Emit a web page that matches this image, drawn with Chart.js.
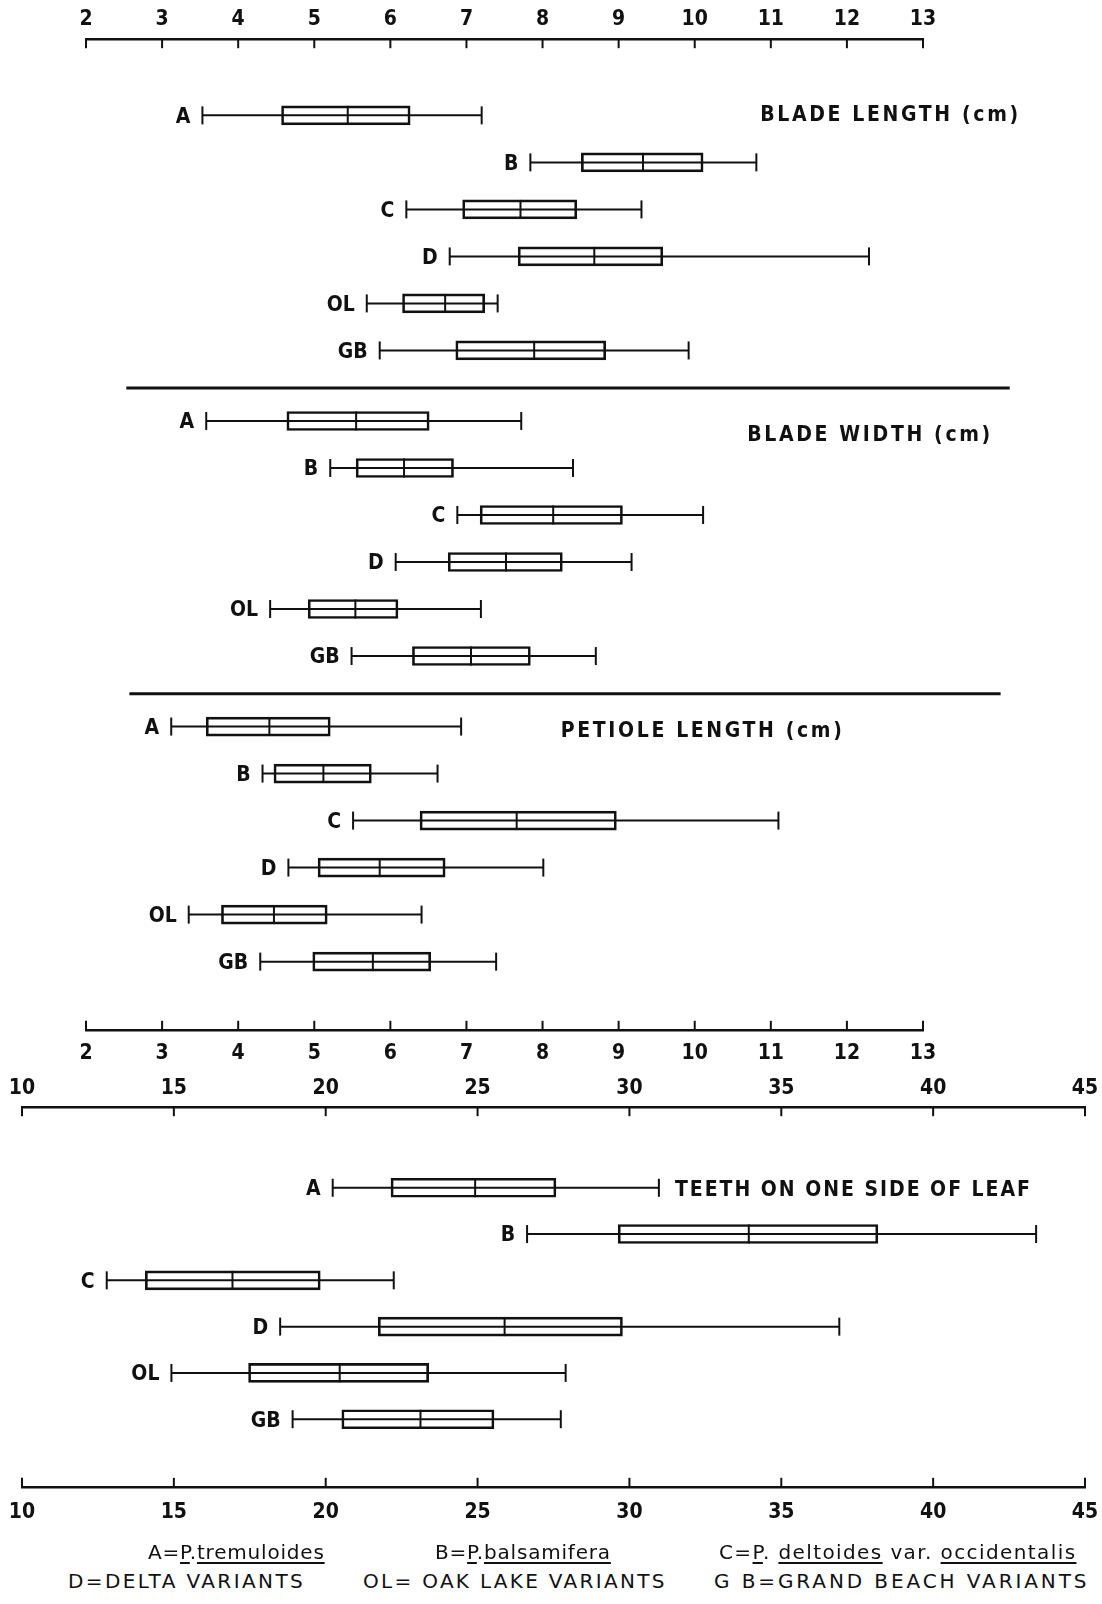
<!DOCTYPE html>
<html>
<head>
<meta charset="utf-8">
<script src="https://cdn.jsdelivr.net/npm/chart.js@4.4.1/dist/chart.umd.min.js"></script>
<style>
  body { margin: 0; background: #fff; width: 1102px; height: 1604px; position: relative; overflow: hidden; }
  #wrapTop { position: absolute; left: 0; top: 0; width: 1102px; height: 1085px; }
  #wrapTeeth { position: absolute; left: 0; top: 1060px; width: 1102px; height: 490px; }
  .leg { position: absolute; font-family: 'DejaVu Sans', sans-serif; font-size: 20px; line-height: 24px;
         color: #111; white-space: nowrap; }
  .leg u { text-underline-offset: 3px; }
</style>
</head>
<body>
<div id="wrapTop"><canvas id="leafChart"></canvas></div>
<div id="wrapTeeth"><canvas id="teethChart"></canvas></div>

<div class="leg" style="left:148px; top:1540px; letter-spacing:0.8px;">A=<u>P</u>.<u>tremuloides</u></div>
<div class="leg" style="left:435px; top:1540px; letter-spacing:0.8px;">B=<u>P</u>.<u>balsamifera</u></div>
<div class="leg" style="left:719px; top:1540px; letter-spacing:1.4px;">C=<u>P</u>. <u>deltoides</u> var. <u>occidentalis</u></div>
<div class="leg" style="left:68px; top:1569px; letter-spacing:2.4px;">D=DELTA VARIANTS</div>
<div class="leg" style="left:363px; top:1569px; letter-spacing:2.3px;">OL= OAK LAKE VARIANTS</div>
<div class="leg" style="left:714px; top:1569px; letter-spacing:2.9px;">G B=GRAND BEACH VARIANTS</div>

<script>
// groups, each row is [min, q1, median, q3, max]
const groups = ['A', 'B', 'C', 'D', 'OL', 'GB'];

const bladeLength = [
  [3.53, 4.57, 5.44, 6.26, 7.20],
  [7.84, 8.51, 9.32, 10.11, 10.81],
  [6.21, 6.95, 7.71, 8.45, 9.30],
  [6.78, 7.68, 8.68, 9.58, 12.29],
  [5.69, 6.16, 6.72, 7.24, 7.41],
  [5.86, 6.86, 7.89, 8.83, 9.92]
];
const bladeWidth = [
  [3.58, 4.64, 5.55, 6.51, 7.72],
  [5.21, 5.55, 6.18, 6.83, 8.40],
  [6.88, 7.18, 8.14, 9.05, 10.11],
  [6.07, 6.76, 7.52, 8.26, 9.17],
  [4.42, 4.92, 5.54, 6.10, 7.19],
  [5.49, 6.29, 7.06, 7.84, 8.70]
];
const petioleLength = [
  [3.12, 3.58, 4.41, 5.21, 6.93],
  [4.32, 4.47, 5.12, 5.75, 6.62],
  [5.51, 6.39, 7.66, 8.97, 11.10],
  [4.66, 5.05, 5.86, 6.72, 8.01],
  [3.35, 3.78, 4.47, 5.17, 6.41],
  [4.29, 4.98, 5.77, 6.53, 7.39]
];
const teeth = [
  [20.23, 22.15, 24.92, 27.58, 30.97],
  [26.63, 29.63, 33.93, 38.18, 43.39],
  [12.79, 14.06, 16.93, 19.82, 22.24],
  [18.50, 21.73, 25.89, 29.77, 36.91],
  [14.92, 17.46, 20.46, 23.39, 27.90],
  [18.91, 20.53, 23.12, 25.54, 27.74]
];

const cmTicks = [2, 13];       // axis range, step 1
const teethTicks = [10, 45];   // axis range, step 5

const leafTitles = ['BLADE LENGTH (cm)', 'BLADE WIDTH (cm)', 'PETIOLE LENGTH (cm)'];
const teethTitle = 'TEETH ON ONE SIDE OF LEAF';

const ink = '#111';
const panelStep = 6.5;
const tickFont = { family: "'Liberation Sans Narrow', 'DejaVu Sans Condensed', sans-serif", size: 21, weight: 'bold' };
const rowFont = "bold 21px 'Liberation Sans Narrow', 'DejaVu Sans Condensed', sans-serif";
const titleFont = "bold 21px 'Liberation Sans Narrow', 'DejaVu Sans Condensed', sans-serif";

function toBars(stats, p) {
  return stats.map((s, r) => ({ x: [s[1], s[3]], y: p * panelStep + r }));
}

function line(ctx, x0, y0, x1, y1) {
  ctx.beginPath(); ctx.moveTo(x0, y0); ctx.lineTo(x1, y1); ctx.stroke();
}

const boxExtras = {
  id: 'boxExtras',
  beforeDatasetsDraw(chart, args, opts) {
    const ctx = chart.ctx, xs = chart.scales.x, ys = chart.scales.y;
    ctx.save();
    ctx.strokeStyle = ink;
    ctx.lineWidth = 2;
    opts.panels.forEach((stats, p) => {
      stats.forEach((s, r) => {
        const py = ys.getPixelForValue(p * panelStep + r);
        const x0 = xs.getPixelForValue(s[0]), x1 = xs.getPixelForValue(s[4]);
        line(ctx, x0, py, x1, py);
        line(ctx, x0, py - 9, x0, py + 9);
        line(ctx, x1, py - 9, x1, py + 9);
      });
    });
    ctx.restore();
  },
  afterDatasetsDraw(chart, args, opts) {
    const ctx = chart.ctx, xs = chart.scales.x, ys = chart.scales.y;
    ctx.save();
    ctx.strokeStyle = ink;
    ctx.fillStyle = ink;

    // medians and row labels
    opts.panels.forEach((stats, p) => {
      stats.forEach((s, r) => {
        const py = ys.getPixelForValue(p * panelStep + r);
        const xm = xs.getPixelForValue(s[2]);
        ctx.lineWidth = 2;
        line(ctx, xm, py - 9.5, xm, py + 9.5);
        ctx.font = rowFont;
        ctx.textAlign = 'right';
        ctx.textBaseline = 'middle';
        ctx.fillText(groups[r], xs.getPixelForValue(s[0]) - 12, py + 2);
      });
    });

    // panel titles, letter-spaced to their printed width
    ctx.font = titleFont;
    ctx.textAlign = 'left';
    ctx.textBaseline = 'middle';
    opts.titles.forEach(t => {
      ctx.letterSpacing = '0px';
      const w = ctx.measureText(t.text).width;
      ctx.letterSpacing = ((t.width - w) / (t.text.length - 1)) + 'px';
      ctx.fillText(t.text, xs.getPixelForValue(t.x), ys.getPixelForValue(t.y));
    });
    ctx.letterSpacing = '0px';

    // separators between panels
    ctx.lineWidth = 3;
    (opts.separators || []).forEach(s => {
      const py = ys.getPixelForValue(s.y);
      line(ctx, xs.getPixelForValue(s.x0), py, xs.getPixelForValue(s.x1), py);
    });

    // axis tick marks, pointing towards the plot
    ctx.lineWidth = 2;
    Object.values(chart.scales).forEach(sc => {
      if (sc.axis !== 'x') return;
      const top = sc.options.position === 'top';
      const yLine = top ? sc.bottom : sc.top;
      sc.ticks.forEach(t => {
        const px = sc.getPixelForValue(t.value);
        line(ctx, px, yLine, px, top ? yLine + 9 : yLine - 9);
      });
    });
    ctx.restore();
  }
};

function xAxis(position, range, step, pad) {
  return {
    type: 'linear', position: position, min: range[0], max: range[1],
    ticks: { stepSize: step, color: ink, font: tickFont, padding: pad, maxRotation: 0 },
    grid: { display: true, drawOnChartArea: false, drawTicks: false },
    border: { display: true, color: ink, width: 2.5 },
    // end labels may hang over the edges; the layout padding alone fixes the plot width
    afterFit: sc => { sc.paddingLeft = 0; sc.paddingRight = 0; }
  };
}

function barSet(data) {
  return {
    data: data, xAxisID: 'x', yAxisID: 'y', grouped: false,
    backgroundColor: 'rgba(0,0,0,0)', borderColor: ink, borderWidth: 2,
    borderSkipped: false, barThickness: 19
  };
}

Chart.register(boxExtras);

new Chart(document.getElementById('leafChart'), {
  type: 'bar',
  data: {
    datasets: [
      barSet(toBars(bladeLength, 0)),
      barSet(toBars(bladeWidth, 1)),
      barSet(toBars(petioleLength, 2))
    ]
  },
  options: {
    indexAxis: 'y',
    responsive: true,
    maintainAspectRatio: false,
    animation: false,
    layout: { padding: { left: 86, right: 179, top: 0, bottom: 8 } },
    scales: {
      x: xAxis('top', cmTicks, 1, 7),
      xb: xAxis('bottom', cmTicks, 1, 11),
      y: { type: 'linear', display: false, reverse: true, offset: false, min: -1.62, max: 19.45 }
    },
    plugins: {
      legend: { display: false },
      tooltip: { enabled: false },
      boxExtras: {
        panels: [bladeLength, bladeWidth, petioleLength],
        titles: [
          { text: leafTitles[0], x: 10.86, y: 0, width: 258 },
          { text: leafTitles[1], x: 10.69, y: panelStep + 0.3, width: 243 },
          { text: leafTitles[2], x: 8.24, y: 2 * panelStep + 0.1, width: 281 }
        ],
        separators: [
          { y: panelStep - 0.7, x0: 2.53, x1: 14.14 },
          { y: 2 * panelStep - 0.7, x0: 2.57, x1: 14.02 }
        ]
      }
    }
  }
});

new Chart(document.getElementById('teethChart'), {
  type: 'bar',
  data: { datasets: [barSet(toBars(teeth, 0))] },
  options: {
    indexAxis: 'y',
    responsive: true,
    maintainAspectRatio: false,
    animation: false,
    layout: { padding: { left: 22, right: 17, top: 10, bottom: 12 } },
    scales: {
      x: xAxis('top', teethTicks, 5, 6),
      xb: xAxis('bottom', teethTicks, 5, 13),
      y: { type: 'linear', display: false, reverse: true, offset: false, min: -1.74, max: 6.46 }
    },
    plugins: {
      legend: { display: false },
      tooltip: { enabled: false },
      boxExtras: {
        panels: [teeth],
        titles: [{ text: teethTitle, x: 31.5, y: 0.05, width: 355 }],
        separators: []
      }
    }
  }
});
</script>
</body>
</html>
